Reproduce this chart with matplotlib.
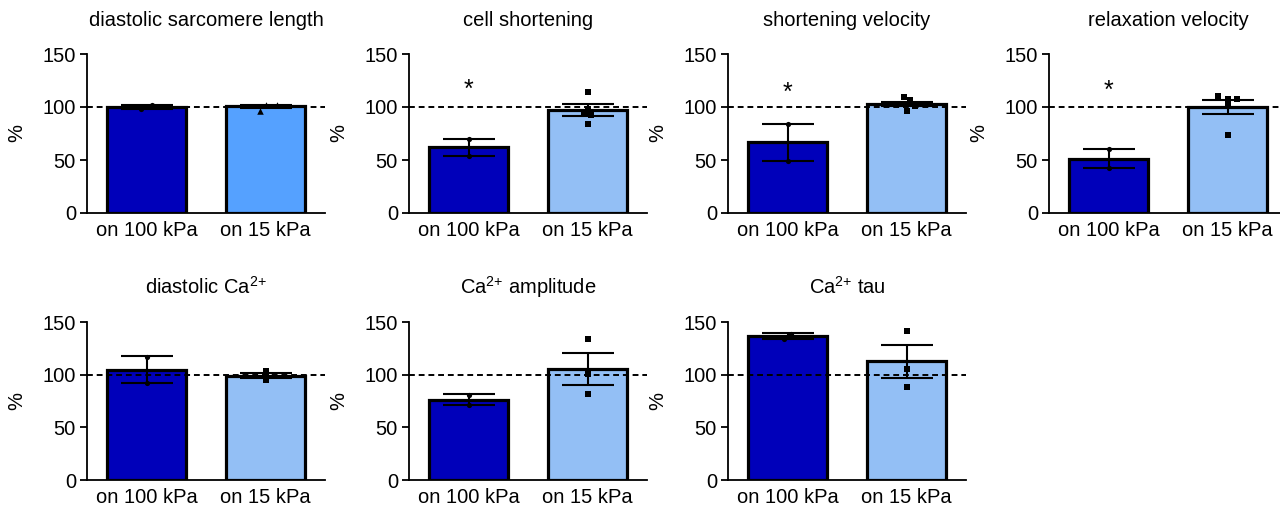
import matplotlib
matplotlib.use("Agg")
import matplotlib.pyplot as plt

plt.rcParams['font.family'] = ['Liberation Sans', 'DejaVu Sans']
plt.rcParams['mathtext.fontset'] = 'custom'
plt.rcParams['mathtext.rm'] = 'Liberation Sans'

categories = ["on 100 kPa", "on 15 kPa"]
titles = ["diastolic sarcomere length", "cell shortening", "shortening velocity",
          "relaxation velocity", r"diastolic Ca$\mathregular{^{2{+}}}$",
          r"Ca$\mathregular{^{2{+}}}$ amplitude", r"Ca$\mathregular{^{2{+}}}$ tau"]

# bar means (100 kPa, 15 kPa)
means = [
    [100.0, 100.5],
    [62.0, 97.3],
    [66.6, 102.6],
    [51.0, 100.0],
    [104.8, 99.2],
    [76.1, 105.5],
    [136.7, 112.7],
]
# error bar half-widths
errors = [
    [2.0, 1.5],
    [8.0, 5.5],
    [17.5, 2.0],
    [9.0, 7.0],
    [12.5, 2.0],
    [5.2, 15.5],
    [3.2, 15.6],
]
# individual points, 100 kPa
points_a = [
    [102.0, 98.0],
    [70.0, 54.0],
    [84.0, 49.0],
    [60.0, 42.0],
    [117.0, 92.0],
    [81.0, 71.0],
    [139.0, 134.0],
]
# individual points, 15 kPa
points_b = [
    [101.5, 96.0, 102.0],
    [114.0, 98.0, 95.5, 92.5, 84.0],
    [109.0, 106.5, 100.5, 96.5, 103.0],
    [110.8, 108.0, 108.0, 101.7, 73.6],
    [103.6, 94.7, 100.4],
    [134.2, 101.0, 81.2],
    [141.5, 105.5, 88.4],
]
significant = [False, True, True, True, False, False, False]
star_level = [0, 120, 117, 118.7, 0, 0, 0]

# jitter offsets for points (styling)
jit_a = [[0.05, -0.05], [0.0, 0.0], [0.0, 0.0], [0.0, 0.0], [0.0, 0.0], [0.0, 0.0], [0.03, -0.03]]
jit_b = [
    [0.1, -0.05, 0.0],
    [0.0, 0.0, -0.03, 0.03, 0.0],
    [-0.02, 0.03, 0.07, 0.0, -0.06],
    [-0.08, 0.0, 0.08, 0.0, 0.0],
    [0.0, 0.0, 0.0],
    [0.0, 0.0, 0.0],
    [0.0, 0.0, 0.0],
]

dark = "#0000BA"
light = "#93BFF5"
light_first = "#55A1FF"

fig = plt.figure(figsize=(12.8, 5.09), dpi=100)
W, H = 1280.0, 509.0
lefts = [87, 409, 728, 1049]
axw = 238
rows = [(54, 213), (322, 480)]
fs = 14.5

for i in range(7):
    r = 0 if i < 4 else 1
    c = i if i < 4 else i - 4
    top, bot = rows[r]
    ax = fig.add_axes([lefts[c] / W, 1 - bot / H, axw / W, (bot - top) / H])
    cols = [dark, light_first if i == 0 else light]
    x = [0, 1]
    ax.bar(x, means[i], width=0.67, color=cols, edgecolor="black", linewidth=2.3, zorder=2)
    ax.axhline(100, color="black", linestyle=(0, (3, 2)), linewidth=1.4, zorder=3)
    ax.errorbar(x, means[i], yerr=errors[i], fmt="none", ecolor="black",
                elinewidth=1.5, capsize=19, capthick=1.5, zorder=4)
    ax.scatter([0 + j for j in jit_a[i]], points_a[i], marker="o", s=14,
               color="black", zorder=5, linewidths=0)
    ax.scatter([1 + j for j in jit_b[i]], points_b[i], marker="^" if i == 0 else "s",
               s=22, color="black", zorder=5, linewidths=0)
    if significant[i]:
        ax.annotate("*", xy=(0, star_level[i]), xytext=(0, -8), textcoords="offset points",
                    ha="center", va="baseline", fontsize=18)
    ax.set_xlim(-0.5, 1.5)
    ax.set_ylim(0, 150)
    ax.set_yticks([0, 50, 100, 150])
    ax.set_xticks(x)
    ax.set_xticklabels(categories)
    ax.tick_params(axis="x", length=0, pad=6, labelsize=fs)
    ax.tick_params(axis="y", length=5, width=1.3, labelsize=fs, pad=3)
    for s in ["top", "right"]:
        ax.spines[s].set_visible(False)
    for s in ["left", "bottom"]:
        ax.spines[s].set_linewidth(1.3)
    ax.set_ylabel("%", fontsize=fs, labelpad=12)
    ax.set_title(titles[i], fontsize=fs, pad=20)

fig.savefig("out.png", dpi=100)
